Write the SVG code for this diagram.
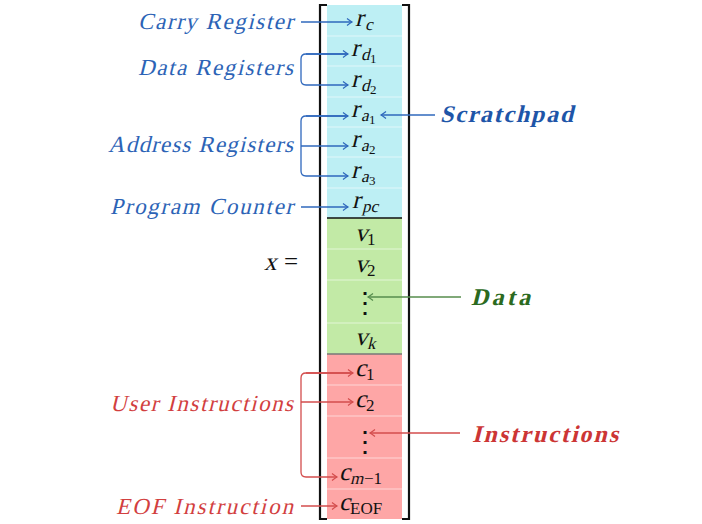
<svg xmlns="http://www.w3.org/2000/svg" width="702" height="524" viewBox="0 0 702 524">
<defs>
<style>
.lbl{font-family:"Liberation Serif","DejaVu Serif",serif;font-size:23px}
.blue{fill:#2c63b6}
.red{fill:#d23f3f}
.big{font-family:"Liberation Serif","DejaVu Serif",serif;font-weight:bold;font-size:24px}
.m{font-family:"Liberation Serif","DejaVu Serif",serif;font-size:25px;fill:#111}
.s{font-family:"Liberation Serif","DejaVu Serif",serif;font-size:17px;fill:#111}
.ss{font-family:"Liberation Serif","DejaVu Serif",serif;font-size:13px;fill:#111}
.dots{font-family:"DejaVu Serif",serif;font-size:28px;fill:#111}
.sep{stroke:#ffffff;stroke-opacity:0.55;stroke-width:1}
.bl{fill:none;stroke:#2f68bd;stroke-width:1.3}
.gr{fill:none;stroke:#568c4d;stroke-width:1.3}
.rd{fill:none;stroke:#d34d4d;stroke-width:1.3}
.brk{fill:none;stroke:#111;stroke-width:2.2}
</style>
<marker id="ab" markerWidth="10" markerHeight="10" viewBox="-6 -5 8 10" refX="0" refY="0" orient="auto" markerUnits="userSpaceOnUse"><path d="M-5,-3.5 Q-1.5,-0.8 0,0 Q-1.5,0.8 -5,3.5" fill="none" stroke="#2f68bd" stroke-width="1.2"/></marker>
<marker id="ag" markerWidth="10" markerHeight="10" viewBox="-6 -5 8 10" refX="0" refY="0" orient="auto" markerUnits="userSpaceOnUse"><path d="M-5,-3.5 Q-1.5,-0.8 0,0 Q-1.5,0.8 -5,3.5" fill="none" stroke="#568c4d" stroke-width="1.2"/></marker>
<marker id="ar" markerWidth="10" markerHeight="10" viewBox="-6 -5 8 10" refX="0" refY="0" orient="auto" markerUnits="userSpaceOnUse"><path d="M-5,-3.5 Q-1.5,-0.8 0,0 Q-1.5,0.8 -5,3.5" fill="none" stroke="#d34d4d" stroke-width="1.2"/></marker>
</defs>
<rect width="702" height="524" fill="#ffffff"/>

<g id="vector">
<rect x="327" y="5" width="75" height="213" fill="#bdeff4"/>
<rect x="327" y="218" width="75" height="136" fill="#c2eaa6"/>
<rect x="327" y="354" width="75" height="165" fill="#fea6a6"/>
<g class="sep">
<line x1="327" y1="36" x2="402" y2="36"/><line x1="327" y1="66" x2="402" y2="66"/><line x1="327" y1="97" x2="402" y2="97"/><line x1="327" y1="127" x2="402" y2="127"/><line x1="327" y1="157" x2="402" y2="157"/><line x1="327" y1="188" x2="402" y2="188"/>
<line x1="327" y1="249" x2="402" y2="249"/><line x1="327" y1="280" x2="402" y2="280"/><line x1="327" y1="323" x2="402" y2="323"/>
<line x1="327" y1="385" x2="402" y2="385"/><line x1="327" y1="416" x2="402" y2="416"/><line x1="327" y1="458" x2="402" y2="458"/><line x1="327" y1="489" x2="402" y2="489"/>
</g>
<line x1="327" y1="218" x2="402" y2="218" stroke="#111" stroke-width="1.3"/>
<line x1="327" y1="354" x2="402" y2="354" stroke="#777" stroke-width="1.6"/>
<path class="brk" d="M327,5 H320 V519 H327"/>
<path class="brk" d="M402,5 H409 V519 H402"/>
</g>

<g id="cells">
<g id="rc"><text class="m" transform="translate(355,26) skewX(-14)">r</text><text class="s" transform="translate(365,30) skewX(-14)">c</text></g>
<g id="rd1"><text class="m" transform="translate(351,56) skewX(-14)">r</text><text class="s" transform="translate(361,60) skewX(-14)">d</text><text class="ss" x="370" y="63">1</text></g>
<g id="rd2"><text class="m" transform="translate(351,87) skewX(-14)">r</text><text class="s" transform="translate(361,91) skewX(-14)">d</text><text class="ss" x="370" y="94">2</text></g>
<g id="ra1"><text class="m" transform="translate(351,117) skewX(-14)">r</text><text class="s" transform="translate(361,121) skewX(-14)">a</text><text class="ss" x="369" y="124">1</text></g>
<g id="ra2"><text class="m" transform="translate(351,147) skewX(-14)">r</text><text class="s" transform="translate(361,151) skewX(-14)">a</text><text class="ss" x="369" y="154">2</text></g>
<g id="ra3"><text class="m" transform="translate(351,178) skewX(-14)">r</text><text class="s" transform="translate(361,182) skewX(-14)">a</text><text class="ss" x="369" y="185">3</text></g>
<g id="rpc"><text class="m" transform="translate(352,208) skewX(-14)">r</text><text class="s" transform="translate(362,212) skewX(-14)">pc</text></g>
<g id="v1"><text class="m" transform="translate(355,241) skewX(-14)">v</text><text class="s" x="367" y="245">1</text></g>
<g id="v2"><text class="m" transform="translate(355,272) skewX(-14)">v</text><text class="s" x="367" y="276">2</text></g>
<text class="dots" x="365" y="312" text-anchor="middle">⋮</text>
<g id="vk"><text class="m" transform="translate(355,345) skewX(-14)">v</text><text class="s" transform="translate(367,349) skewX(-14)">k</text></g>
<g id="c1"><text class="m" transform="translate(355,376) skewX(-14)">c</text><text class="s" x="366" y="380">1</text></g>
<g id="c2"><text class="m" transform="translate(355,407) skewX(-14)">c</text><text class="s" x="366" y="411">2</text></g>
<text class="dots" x="365" y="451" text-anchor="middle">⋮</text>
<g id="cm1"><text class="m" transform="translate(339,480) skewX(-14)">c</text><text class="s" transform="translate(350,484) skewX(-14)" font-size="18">m</text><text class="s" x="364" y="484" font-size="18">−1</text></g>
<g id="ceof"><text class="m" transform="translate(339,510) skewX(-14)">c</text><text class="s" x="350" y="514" font-size="18">EOF</text></g>
</g>

<g id="xeq">
<text class="m" transform="translate(264,270) skewX(-14)">x</text>
<text class="m" x="284" y="270" font-size="26">=</text>
</g>

<g id="labels">
<text class="lbl blue" transform="translate(293,29) skewX(-14)" text-anchor="end" textLength="155" lengthAdjust="spacing">Carry Register</text>
<text class="lbl blue" transform="translate(293,75) skewX(-14)" text-anchor="end" textLength="155" lengthAdjust="spacing">Data Registers</text>
<text class="lbl blue" transform="translate(293,152) skewX(-14)" text-anchor="end" textLength="185" lengthAdjust="spacing">Address Registers</text>
<text class="lbl blue" transform="translate(293,214) skewX(-14)" text-anchor="end" textLength="183" lengthAdjust="spacing">Program Counter</text>
<text class="lbl red" transform="translate(293,411) skewX(-14)" text-anchor="end" textLength="183" lengthAdjust="spacing">User Instructions</text>
<text class="lbl red" transform="translate(293,514) skewX(-14)" text-anchor="end" textLength="177" lengthAdjust="spacing">EOF Instruction</text>
<text class="big" transform="translate(440,122) skewX(-14)" fill="#1e55a8" textLength="133" lengthAdjust="spacing">Scratchpad</text>
<text class="big" transform="translate(471,305) skewX(-14)" fill="#2b6a20" textLength="59" lengthAdjust="spacing">Data</text>
<text class="big" transform="translate(472,442) skewX(-14)" fill="#cc3535" textLength="146" lengthAdjust="spacing">Instructions</text>
</g>

<g id="connectors">
<path class="bl" d="M301,22 H352" marker-end="url(#ab)"/>
<path class="bl" d="M348,54 H306 Q301,54 301,59 V80 Q301,85 306,85 H348" marker-end="url(#ab)"/>
<path class="bl" d="M306,54 H348" marker-end="url(#ab)"/>
<path class="bl" d="M348,116 H306 Q301,116 301,121 V171 Q301,176 306,176 H348" marker-end="url(#ab)"/>
<path class="bl" d="M306,116 H348" marker-end="url(#ab)"/>
<path class="bl" d="M301,146 H348" marker-end="url(#ab)"/>
<path class="bl" d="M301,207 H348" marker-end="url(#ab)"/>
<path class="bl" d="M435,115 H381" marker-end="url(#ab)"/>
<path class="gr" d="M461,297 H368" marker-end="url(#ag)"/>
<path class="rd" d="M460,433 H370" marker-end="url(#ar)"/>
<path class="rd" d="M353,373 H306 Q301,373 301,378 V472 Q301,477 306,477 H337" marker-end="url(#ar)"/>
<path class="rd" d="M306,373 H353" marker-end="url(#ar)"/>
<path class="rd" d="M301,402 H353" marker-end="url(#ar)"/>
<path class="rd" d="M301,506 H337" marker-end="url(#ar)"/>
</g>
</svg>
